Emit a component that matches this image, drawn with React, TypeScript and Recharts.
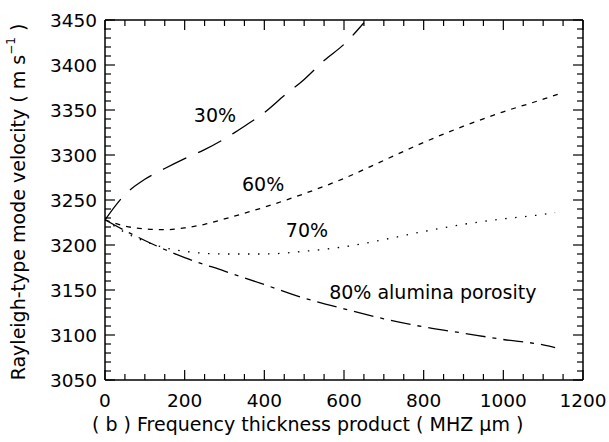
import React from 'react';
import { LineChart, Line, XAxis, YAxis, ReferenceDot } from 'recharts';

// Frequency thickness product (MHZ um) and Rayleigh-type mode velocity (m/s)
const x30 = [0, 50, 100, 150, 200, 250, 300, 350, 400, 450, 500, 550, 600, 650];
const v30 = [3228, 3256, 3273, 3285, 3296, 3306, 3318, 3332, 3347, 3366, 3384, 3405, 3423, 3447];

const x60 = [0, 50, 100, 150, 200, 250, 300, 400, 500, 600, 700, 800, 900, 1000, 1100, 1140];
const v60 = [3228, 3221, 3218, 3217, 3219, 3223, 3229, 3242, 3257, 3274, 3294, 3314, 3332, 3348, 3362, 3368];

const x70 = [0, 50, 100, 150, 200, 300, 400, 500, 600, 700, 800, 900, 1000, 1100, 1130];
const v70 = [3228, 3214, 3204, 3197, 3193, 3190, 3190, 3193, 3198, 3206, 3215, 3223, 3229, 3234, 3236];

const x80 = [0, 50, 100, 150, 200, 300, 400, 500, 600, 700, 800, 900, 1000, 1100, 1130];
const v80 = [3228, 3216, 3205, 3195, 3186, 3171, 3156, 3141, 3129, 3118, 3109, 3102, 3095, 3089, 3086];

const xTicks = [0, 50, 100, 150, 200, 250, 300, 350, 400, 450, 500, 550, 600, 650, 700, 750, 800, 850, 900, 950, 1000, 1050, 1100, 1150, 1200];
const xMajor = [0, 200, 400, 600, 800, 1000, 1200];
const yTicks = [
  3050, 3060, 3070, 3080, 3090, 3100, 3110, 3120, 3130, 3140, 3150, 3160, 3170, 3180, 3190,
  3200, 3210, 3220, 3230, 3240, 3250, 3260, 3270, 3280, 3290, 3300, 3310, 3320, 3330, 3340,
  3350, 3360, 3370, 3380, 3390, 3400, 3410, 3420, 3430, 3440, 3450,
];
const yMajor = [3050, 3100, 3150, 3200, 3250, 3300, 3350, 3400, 3450];

const seriesLabels = [
  { text: '30%', x: 276, y: 3344 },
  { text: '60%', x: 397, y: 3268 },
  { text: '70%', x: 507, y: 3216 },
  { text: '80% alumina porosity', x: 823, y: 3147 },
];

const toPts = (xs: number[], vs: number[]) => xs.map((x, i) => ({ x, y: vs[i] }));
const d30 = toPts(x30, v30);
const d60 = toPts(x60, v60);
const d70 = toPts(x70, v70);
const d80 = toPts(x80, v80);

const FONT = 'DejaVu Sans, Arial, sans-serif';
const MAJ = 10;
const MIN = 6;

const BottomTick = (p: any) => {
  const { x, y, payload } = p;
  const v = payload.value;
  const major = xMajor.includes(v);
  return (
    <g>
      <line x1={x} y1={y} x2={x} y2={y - (major ? MAJ : MIN)} stroke="#000" strokeWidth={1.2} />
      {major && (
        <text x={x} y={y + 27} textAnchor="middle" fontSize={18.5} fontFamily={FONT} fill="#000">
          {v}
        </text>
      )}
    </g>
  );
};

const TopTick = (p: any) => {
  const { x, y, payload } = p;
  const major = xMajor.includes(payload.value);
  return <line x1={x} y1={y} x2={x} y2={y + (major ? MAJ : MIN)} stroke="#000" strokeWidth={1.2} />;
};

const LeftTick = (p: any) => {
  const { x, y, payload } = p;
  const v = payload.value;
  const major = yMajor.includes(v);
  return (
    <g>
      <line x1={x} y1={y} x2={x + (major ? MAJ : MIN)} y2={y} stroke="#000" strokeWidth={1.2} />
      {major && (
        <text x={x - 8} y={y + 7} textAnchor="end" fontSize={18.5} fontFamily={FONT} fill="#000">
          {v}
        </text>
      )}
    </g>
  );
};

const RightTick = (p: any) => {
  const { x, y, payload } = p;
  const major = yMajor.includes(payload.value);
  return <line x1={x} y1={y} x2={x - (major ? MAJ : MIN)} y2={y} stroke="#000" strokeWidth={1.2} />;
};

const YTitle = (p: any) => {
  const vb = p.viewBox;
  const cx = 18;
  const cy = vb.y + vb.height / 2 + 2;
  return (
    <text
      x={cx}
      y={cy}
      transform={`rotate(-90 ${cx} ${cy})`}
      textAnchor="middle"
      dominantBaseline="central"
      fontSize={19}
      fontFamily={FONT}
      fill="#000"
    >
      Rayleigh-type mode velocity ( m s
      <tspan fontSize={12} dy={-7}>−1</tspan>
      <tspan dy={7}> )</tspan>
    </text>
  );
};

const XTitle = (p: any) => {
  const vb = p.viewBox;
  const y = vb.y + 51;
  return (
    <g>
      <text x={vb.x - 13} y={y} fontSize={19} fontFamily={FONT} fill="#000">
        ( b )
      </text>
      <text x={vb.x + 32} y={y} fontSize={19} fontFamily={FONT} fill="#000">
        Frequency thickness product ( MHZ μm )
      </text>
    </g>
  );
};

const lineCommon = {
  dataKey: 'y',
  type: 'monotone' as const,
  stroke: '#000',
  strokeWidth: 1.3,
  dot: false,
  activeDot: false,
  isAnimationActive: false,
};

export default function App() {
  return (
    <div style={{ position: 'absolute', left: 0, top: 0, background: '#fff' }}>
      <LineChart width={609} height={442} margin={{ top: 0, right: 0, bottom: 0, left: 0 }}>
        <XAxis
          xAxisId="b"
          dataKey="x"
          type="number"
          domain={[0, 1200]}
          ticks={xTicks}
          interval={0}
          height={62}
          tickSize={0}
          tickMargin={0}
          tickLine={false}
          tick={<BottomTick />}
          axisLine={{ stroke: '#000', strokeWidth: 1.5 }}
          allowDataOverflow
          label={{ content: <XTitle /> }}
        />
        <XAxis
          xAxisId="t"
          orientation="top"
          dataKey="x"
          type="number"
          domain={[0, 1200]}
          ticks={xTicks}
          interval={0}
          height={20}
          tickSize={0}
          tickMargin={0}
          tickLine={false}
          tick={<TopTick />}
          axisLine={{ stroke: '#000', strokeWidth: 1.5 }}
          allowDataOverflow
        />
        <YAxis
          yAxisId="l"
          type="number"
          domain={[3050, 3450]}
          ticks={yTicks}
          interval={0}
          width={105}
          tickSize={0}
          tickMargin={0}
          tickLine={false}
          tick={<LeftTick />}
          axisLine={{ stroke: '#000', strokeWidth: 1.5 }}
          allowDataOverflow
          label={{ content: <YTitle /> }}
        />
        <YAxis
          yAxisId="r"
          orientation="right"
          type="number"
          domain={[3050, 3450]}
          ticks={yTicks}
          interval={0}
          width={26}
          tickSize={0}
          tickMargin={0}
          tickLine={false}
          tick={<RightTick />}
          axisLine={{ stroke: '#000', strokeWidth: 1.5 }}
          allowDataOverflow
        />
        <Line {...lineCommon} xAxisId="b" yAxisId="l" data={d30} strokeDasharray="26 13" />
        <Line {...lineCommon} xAxisId="b" yAxisId="l" data={d60} strokeDasharray="5 6" />
        <Line {...lineCommon} xAxisId="b" yAxisId="l" data={d70} strokeDasharray="1.5 8.5" />
        <Line {...lineCommon} xAxisId="b" yAxisId="l" data={d80} strokeDasharray="20 7 4 7" />
        {seriesLabels.map((l) => (
          <ReferenceDot
            key={l.text}
            xAxisId="b"
            yAxisId="l"
            x={l.x}
            y={l.y}
            r={0}
            stroke="none"
            fill="none"
            label={{ value: l.text, position: 'center', fontSize: 19, fill: '#000', fontFamily: FONT }}
          />
        ))}
      </LineChart>
    </div>
  );
}
